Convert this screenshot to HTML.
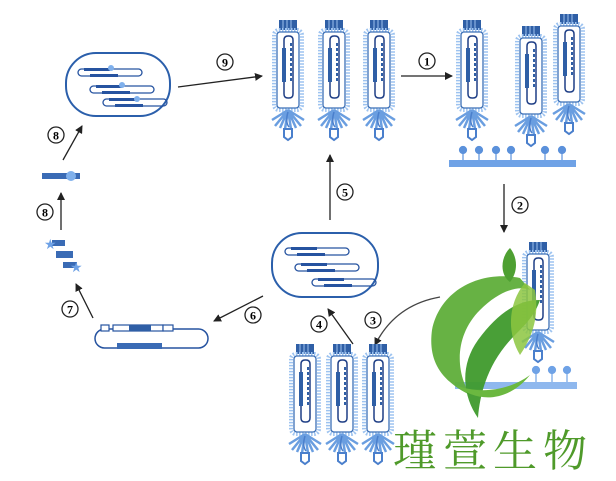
<!DOCTYPE html>
<html><head><meta charset="utf-8"><style>
html,body{margin:0;padding:0;background:#fff;}
svg{display:block;}
</style></head><body>
<svg width="616" height="481" viewBox="0 0 616 481" xmlns="http://www.w3.org/2000/svg">
<defs>
<marker id="ah" markerWidth="8" markerHeight="8" refX="7" refY="4" orient="auto" markerUnits="userSpaceOnUse">
<path d="M0,0 L8,4 L0,8 z" fill="#222"/></marker>
<g id="phage">
 <!-- top bars -->
 <rect x="-9" y="-8" width="18" height="10" fill="#2f5fa6"/>
 <path d="M-5,-8v10M-1,-8v10M3,-8v10" stroke="#9cc0ee" stroke-width="1"/>
 <!-- head -->
 <rect x="-14" y="2" width="28" height="80" rx="5" fill="#fff" stroke="#9dc3f0" stroke-width="4" stroke-dasharray="1.5 1.5"/>
 <rect x="-11" y="4" width="22" height="76" rx="3" fill="#fff" stroke="#3b6fb6" stroke-width="1.3"/>
 <path d="M-4,12 q0,-4 4,-4 h1 q4,0 4,4 v54 q0,4 -4,4 h-1 q-4,0 -4,-4 z" fill="none" stroke="#1f3f86" stroke-width="1.5"/>
 <rect x="-6" y="20" width="4" height="34" fill="#2f5fa6"/>
 <path d="M3,15v40" stroke="#2f5fa6" stroke-width="2" stroke-dasharray="3 2"/>
 <!-- fibers -->
 <g stroke="#6a9ee0" stroke-width="2.5" fill="none">
  <path d="M0,82 l-13,16M0,82 l-8,18M0,82 l-3,19M0,82 l3,19M0,82 l8,18M0,82 l13,16M0,82 l-16,10M0,82 l16,10"/>
 </g>
 <path d="M0,84 q-3,10 1,15" stroke="#4a7fcc" stroke-width="1.5" fill="none"/>
 <path d="M-4,101 h8 v8 l-4,3 l-4,-3z" fill="#fff" stroke="#4a7fcc" stroke-width="2"/>
</g>
<g id="dna">
 <rect x="0" y="0" width="64" height="7" rx="3.5" fill="none" stroke="#2653a0" stroke-width="1.3"/>
 <rect x="6" y="-1" width="26" height="3" fill="#2653a0"/>
 <rect x="12" y="5" width="28" height="3" fill="#2653a0"/>
</g>
</defs>

<!-- top-left cell -->
<rect x="66" y="53" width="104" height="63" rx="30" fill="#fff" stroke="#2b5fab" stroke-width="2"/>
<use href="#dna" x="78" y="69"/>
<use href="#dna" x="90" y="86"/>
<use href="#dna" x="103" y="99"/>
<g fill="#7fb0ec"><circle cx="111" cy="68" r="3"/><circle cx="122" cy="85" r="3"/><circle cx="137" cy="99" r="3"/></g>

<!-- arrow 9 -->
<line x1="178" y1="87" x2="262" y2="76" stroke="#222" stroke-width="1.3" marker-end="url(#ah)"/>
<circle cx="225" cy="62" r="8" fill="#fff" stroke="#222" stroke-width="1.3"/>
<text x="225" y="66.5" font-family="Liberation Serif,serif" font-size="12" font-weight="bold" text-anchor="middle">9</text>

<!-- top phages -->
<use href="#phage" x="288" y="28"/>
<use href="#phage" x="334" y="28"/>
<use href="#phage" x="379" y="28"/>

<!-- arrow 1 -->
<line x1="401" y1="76" x2="452" y2="76" stroke="#222" stroke-width="1.3" marker-end="url(#ah)"/>
<circle cx="427" cy="61" r="8" fill="#fff" stroke="#222" stroke-width="1.3"/>
<text x="427" y="65.5" font-family="Liberation Serif,serif" font-size="12" font-weight="bold" text-anchor="middle">1</text>

<!-- right attached phages -->
<use href="#phage" x="472" y="28"/>
<use href="#phage" x="531" y="34"/>
<use href="#phage" x="569" y="22"/>
<rect x="449" y="160" width="127" height="7" fill="#6fa2e6"/>
<g fill="#5b91db" stroke="#5b91db" stroke-width="1.2">
<circle cx="463" cy="150" r="3.5"/><line x1="463" y1="150" x2="463" y2="160"/>
<circle cx="479" cy="150" r="3.5"/><line x1="479" y1="150" x2="479" y2="160"/>
<circle cx="496" cy="150" r="3.5"/><line x1="496" y1="150" x2="496" y2="160"/>
<circle cx="511" cy="150" r="3.5"/><line x1="511" y1="150" x2="511" y2="160"/>
<circle cx="545" cy="150" r="3.5"/><line x1="545" y1="150" x2="545" y2="160"/>
<circle cx="562" cy="150" r="3.5"/><line x1="562" y1="150" x2="562" y2="160"/>
</g>

<!-- arrow 2 -->
<line x1="504" y1="184" x2="504" y2="232" stroke="#222" stroke-width="1.3" marker-end="url(#ah)"/>
<circle cx="520" cy="205" r="8" fill="#fff" stroke="#222" stroke-width="1.3"/>
<text x="520" y="209.5" font-family="Liberation Serif,serif" font-size="12" font-weight="bold" text-anchor="middle">2</text>

<!-- right middle phage + surface -->
<use href="#phage" x="538" y="250"/>
<rect x="455" y="382" width="122" height="7" fill="#8fb8ee"/>
<g fill="#6fa2e6" stroke="#6fa2e6" stroke-width="1.2">
<circle cx="536" cy="370" r="3.5"/><line x1="536" y1="370" x2="536" y2="382"/>
<circle cx="552" cy="370" r="3.5"/><line x1="552" y1="370" x2="552" y2="382"/>
<circle cx="567" cy="370" r="3.5"/><line x1="567" y1="370" x2="567" y2="382"/>
</g>

<!-- arrow 5 -->
<line x1="330" y1="220" x2="330" y2="155" stroke="#222" stroke-width="1.3" marker-end="url(#ah)"/>
<circle cx="345" cy="192" r="8" fill="#fff" stroke="#222" stroke-width="1.3"/>
<text x="345" y="196.5" font-family="Liberation Serif,serif" font-size="12" font-weight="bold" text-anchor="middle">5</text>

<!-- middle cell -->
<rect x="272" y="233" width="106" height="64" rx="30" fill="#fff" stroke="#2b5fab" stroke-width="2"/>
<use href="#dna" x="285" y="248"/>
<use href="#dna" x="295" y="264"/>
<use href="#dna" x="312" y="279"/>

<!-- arrow 3 curved -->
<path d="M440,297 Q395,305 375,345" fill="none" stroke="#444" stroke-width="1.3" marker-end="url(#ah)"/>
<circle cx="373" cy="320" r="8" fill="#fff" stroke="#222" stroke-width="1.3"/>
<text x="373" y="324.5" font-family="Liberation Serif,serif" font-size="12" font-weight="bold" text-anchor="middle">3</text>
<!-- arrow 4 -->
<line x1="353" y1="344" x2="328" y2="309" stroke="#222" stroke-width="1.3" marker-end="url(#ah)"/>
<circle cx="319" cy="324" r="8" fill="#fff" stroke="#222" stroke-width="1.3"/>
<text x="319" y="328.5" font-family="Liberation Serif,serif" font-size="12" font-weight="bold" text-anchor="middle">4</text>

<!-- bottom phages -->
<use href="#phage" x="305" y="352"/>
<use href="#phage" x="342" y="352"/>
<use href="#phage" x="378" y="352"/>

<!-- arrow 6 -->
<line x1="263" y1="296" x2="214" y2="321" stroke="#222" stroke-width="1.3" marker-end="url(#ah)"/>
<circle cx="253" cy="315" r="8" fill="#fff" stroke="#222" stroke-width="1.3"/>
<text x="253" y="319.5" font-family="Liberation Serif,serif" font-size="12" font-weight="bold" text-anchor="middle">6</text>

<!-- plasmid -->
<rect x="95" y="329" width="113" height="19" rx="9.5" fill="none" stroke="#2653a0" stroke-width="1.5"/>
<rect x="101" y="325" width="8" height="6" fill="#fff" stroke="#2653a0" stroke-width="1.2"/>
<rect x="113" y="325" width="50" height="6" fill="#fff" stroke="#2653a0" stroke-width="1.2"/>
<rect x="129" y="325" width="22" height="6" fill="#2f5fa6"/>
<rect x="163" y="325" width="10" height="6" fill="#fff" stroke="#2653a0" stroke-width="1.2"/>
<rect x="117" y="343" width="45" height="6" fill="#3a6bb5"/>

<!-- arrow 7 -->
<line x1="93" y1="318" x2="76" y2="284" stroke="#222" stroke-width="1.3" marker-end="url(#ah)"/>
<circle cx="70" cy="309" r="8" fill="#fff" stroke="#222" stroke-width="1.3"/>
<text x="70" y="313.5" font-family="Liberation Serif,serif" font-size="12" font-weight="bold" text-anchor="middle">7</text>

<!-- fragments with stars -->
<rect x="52" y="240" width="13" height="6" fill="#3a6bb5"/>
<rect x="56" y="251" width="17" height="7" fill="#3a6bb5"/>
<rect x="63" y="262" width="14" height="6" fill="#3a6bb5"/>
<g fill="#6fa2e6"><text x="44" y="249" font-size="14" font-family="DejaVu Sans">★</text><text x="70" y="272" font-size="14" font-family="DejaVu Sans">★</text></g>

<!-- arrow 8 lower -->
<line x1="61" y1="230" x2="61" y2="193" stroke="#222" stroke-width="1.3" marker-end="url(#ah)"/>
<circle cx="45" cy="212" r="8" fill="#fff" stroke="#222" stroke-width="1.3"/>
<text x="45" y="216.5" font-family="Liberation Serif,serif" font-size="12" font-weight="bold" text-anchor="middle">8</text>
<rect x="42" y="173" width="38" height="6" fill="#3a6bb5"/>
<circle cx="71" cy="176" r="5" fill="#7fb0ec"/>

<!-- arrow 8 upper -->
<line x1="63" y1="160" x2="82" y2="126" stroke="#222" stroke-width="1.3" marker-end="url(#ah)"/>
<circle cx="56" cy="135" r="8" fill="#fff" stroke="#222" stroke-width="1.3"/>
<text x="56" y="139.5" font-family="Liberation Serif,serif" font-size="12" font-weight="bold" text-anchor="middle">8</text>

<!-- logo -->
<path d="M520,278 C480,270 440,290 432,330 C428,360 440,380 470,395 C455,370 455,335 480,310 C500,290 520,285 530,290 Z" fill="#5fae3a" opacity="0.95"/>
<path d="M540,300 C520,300 500,310 478,340 C460,365 462,395 478,418 C480,390 490,360 515,335 C525,325 535,315 540,300 Z" fill="#3f9a2c" opacity="0.95"/>
<path d="M525,283 C510,300 505,330 520,355 C530,340 540,320 535,290 Z" fill="#8cc63f" opacity="0.85"/>
<path d="M510,248 C500,258 500,275 510,282 C518,272 518,258 510,248 Z" fill="#4ea032"/>
<path d="M455,385 C480,395 510,390 530,375 C510,400 480,405 455,385 Z" fill="#6bb840"/>
<text x="393" y="466" font-family="Noto Serif CJK SC,WenQuanYi Zen Hei,serif" font-size="44" fill="#4f9a2a" letter-spacing="6">瑾萱生物</text>
</svg>
</body></html>
